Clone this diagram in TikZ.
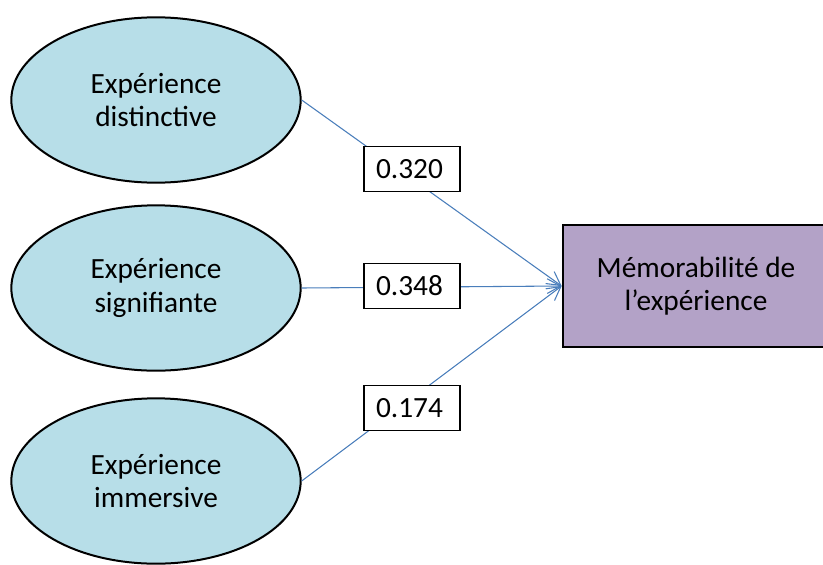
\documentclass[tikz,border=0pt]{standalone}
\usepackage{fontspec}
\setmainfont{Carlito}
\usetikzlibrary{arrows.meta, shapes.geometric}

\definecolor{bleuclair}{HTML}{B7DEE8}
\definecolor{mauve}{HTML}{B3A2C7}
\definecolor{bleulien}{HTML}{4A7EBB}

\begin{document}
\begin{tikzpicture}[
  x=0.75pt, y=-0.75pt,
  dim/.style={ellipse, draw, line width=1.5pt, fill=bleuclair,
              minimum width=217pt, minimum height=124pt,
              inner sep=0pt, align=center, font=\fontsize{22}{25}\selectfont},
  res/.style={rectangle, draw, line width=1.5pt, fill=mauve,
              minimum width=200pt, minimum height=91pt,
              inner sep=0pt, align=center, font=\fontsize{22}{25}\selectfont},
  lien/.style={-{Straight Barb[length=10pt, width=11pt]}, bleulien, line width=0.8pt},
  coef/.style={rectangle, draw, fill=white, line width=0.8pt,
               text width=54pt, inner xsep=9pt, minimum height=34pt,
               align=left, font=\fontsize{22}{24}\selectfont}
]
\useasboundingbox (0,0) rectangle (823,564);

% Trois dimensions de l'expérience
\node[dim] (dist) at (156,100) {Expérience\\distinctive};
\node[dim] (sign) at (156,288) {Expérience\\signifiante};
\node[dim] (imm)  at (156,481) {Expérience\\immersive};

% Variable expliquée
\node[res] (mem) at (696,286) {Mémorabilité de\\l’expérience};

% Liens
\draw[lien] (dist.east) -- (mem.west);
\draw[lien] (sign.east) -- (mem.west);
\draw[lien] (imm.east)  -- (mem.west);

% Coefficients
\node[coef] (c1) at (412,169) {0.320};
\node[coef] (c2) at (412,286) {0.348};
\node[coef] (c3) at (412,408) {0.174};
\end{tikzpicture}
\end{document}
